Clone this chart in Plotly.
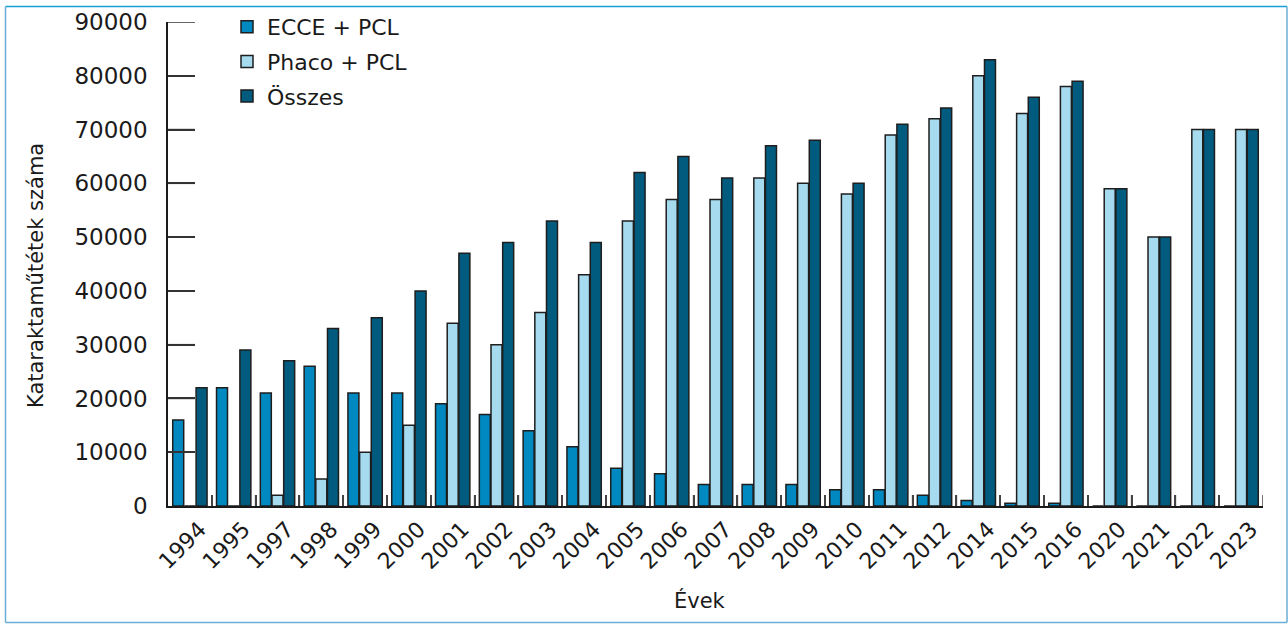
import plotly.graph_objects as go

years = ["1994", "1995", "1997", "1998", "1999", "2000", "2001", "2002", "2003", "2004",
         "2005", "2006", "2007", "2008", "2009", "2010", "2011", "2012", "2014", "2015",
         "2016", "2020", "2021", "2022", "2023"]
ecce = [16000, 22000, 21000, 26000, 21000, 21000, 19000, 17000, 14000, 11000,
        7000, 6000, 4000, 4000, 4000, 3000, 3000, 2000, 1000, 500,
        500, 0, 0, 0, 0]
phaco = [0, 0, 2000, 5000, 10000, 15000, 34000, 30000, 36000, 43000,
         53000, 57000, 57000, 61000, 60000, 58000, 69000, 72000, 80000, 73000,
         78000, 59000, 50000, 70000, 70000]
osszes = [22000, 29000, 27000, 33000, 35000, 40000, 47000, 49000, 53000, 49000,
          62000, 65000, 61000, 67000, 68000, 60000, 71000, 74000, 83000, 76000,
          79000, 59000, 50000, 70000, 70000]
ytick_vals = [0, 10000, 20000, 30000, 40000, 50000, 60000, 70000, 80000, 90000]

FONT = "DejaVu Sans"
outline = dict(color="#1e1e1e", width=1.5)

W, H = 1288, 624
ML, MR, MT, MB = 168, 25, 22, 118
PW, PH = W - ML - MR, H - MT - MB

def px_to_paper(x, y):
    return (x - ML) / PW, (H - MB - y) / PH

fig = go.Figure()
fig.add_bar(x=years, y=ecce, name="ECCE + PCL", legendgroup="a",
            marker=dict(color="#0088c0", line=outline))
fig.add_bar(x=years, y=phaco, name="Phaco + PCL", legendgroup="b",
            marker=dict(color="#a6dbef", line=outline))
fig.add_bar(x=years, y=osszes, name="Összes", legendgroup="c",
            marker=dict(color="#005b7f", line=outline))

lx, ly = px_to_paper(227, 6)
ex, ey = px_to_paper(700, 600)
tx, ty = px_to_paper(36, 276)

fig.update_layout(
    width=W, height=H,
    margin=dict(l=ML, r=MR, t=MT, b=MB, autoexpand=False),
    paper_bgcolor="white", plot_bgcolor="white",
    barmode="group", bargap=0.2, bargroupgap=0.06,
    font=dict(family=FONT, size=20, color="#1a1a1a"),
    showlegend=True,
    legend=dict(x=lx, y=ly, xanchor="left", yanchor="top", bgcolor="rgba(0,0,0,0)",
                font=dict(size=22, family=FONT), itemwidth=30, tracegroupgap=3,
                traceorder="grouped"),
    xaxis=dict(type="category", tickangle=-45, showline=True, linecolor="#1a1a1a", linewidth=1.5,
               ticks="inside", tickson="boundaries", ticklen=11, tickcolor="#444", tickwidth=1.5,
               tickfont=dict(size=22, family=FONT), ticklabelshift=10, automargin=False,
               range=[-0.5, len(years) - 0.5], showgrid=False),
    yaxis=dict(range=[0, 90000], tickvals=ytick_vals, tickformat="d",
               showline=True, linecolor="#1a1a1a", linewidth=1.5,
               ticks="inside", ticklen=27, tickcolor="#333", tickwidth=1.5,
               tickfont=dict(size=23, family=FONT), ticklabelstandoff=14, automargin=False,
               showgrid=False, zeroline=False),
    annotations=[
        dict(text="Évek", xref="paper", yref="paper", x=ex, y=ey,
             xanchor="center", yanchor="middle", showarrow=False,
             font=dict(size=21, family=FONT, color="#1a1a1a")),
        dict(text="Kataraktaműtétek száma", xref="paper", yref="paper", x=tx, y=ty,
             xanchor="center", yanchor="middle", showarrow=False, textangle=-90,
             font=dict(size=21, family=FONT, color="#1a1a1a")),
    ],
)

# axis ticks (drawn beneath the bars, as in the reference)
for v in ytick_vals[1:]:
    fig.add_shape(type="line", xref="paper", yref="y", x0=0, x1=27 / PW, y0=v, y1=v,
                  layer="below", line=dict(color="#333", width=1.5))
for i in range(1, len(years) + 1):
    fig.add_shape(type="line", xref="x", yref="paper", x0=i - 0.5, x1=i - 0.5, y0=0, y1=11 / PH,
                  layer="below", line=dict(color="#444", width=1.5))

x0, y0 = px_to_paper(5.5, 6.5)
x1, y1 = px_to_paper(1287, 622.5)
fig.add_shape(type="line", xref="paper", yref="paper", x0=x0, x1=x1, y0=y0, y1=y0,
              line=dict(color="#179fd9", width=1.5))
fig.add_shape(type="line", xref="paper", yref="paper", x0=x0, x1=x0, y0=y0, y1=y1,
              line=dict(color="#6aaed6", width=1.5))
fig.add_shape(type="line", xref="paper", yref="paper", x0=x0, x1=x1, y0=y1, y1=y1,
              line=dict(color="#6aaed6", width=1.5))
fig.add_shape(type="line", xref="paper", yref="paper", x0=x1, x1=x1, y0=y0, y1=y1,
              line=dict(color="#6aaed6", width=1.5))

fig.write_html("out.html")
